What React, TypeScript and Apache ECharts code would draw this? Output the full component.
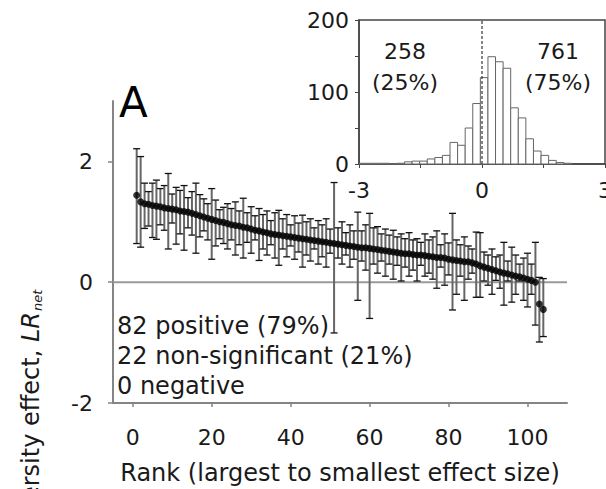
import React, { useEffect, useRef } from 'react';
import * as echarts from 'echarts';

// Main panel: effect per rank (rank = position in list, 1..104)
const effectMean = [
  1.44, 1.33, 1.30, 1.29, 1.27, 1.26, 1.25, 1.23, 1.22, 1.21,
  1.20, 1.18, 1.17, 1.16, 1.14, 1.12, 1.10, 1.08, 1.06, 1.04,
  1.02, 1.00, 0.99, 0.97, 0.95, 0.94, 0.93, 0.91, 0.90, 0.88,
  0.86, 0.85, 0.83, 0.82, 0.80, 0.79, 0.78, 0.77, 0.76, 0.75,
  0.74, 0.73, 0.72, 0.71, 0.70, 0.69, 0.68, 0.67, 0.66, 0.65,
  0.64, 0.63, 0.62, 0.61, 0.60, 0.59, 0.58, 0.57, 0.57, 0.56,
  0.55, 0.54, 0.53, 0.52, 0.51, 0.50, 0.49, 0.48, 0.47, 0.47,
  0.46, 0.45, 0.45, 0.44, 0.43, 0.42, 0.41, 0.41, 0.40, 0.38,
  0.37, 0.36, 0.35, 0.34, 0.34, 0.32, 0.30, 0.27, 0.25, 0.23,
  0.21, 0.19, 0.17, 0.15, 0.14, 0.12, 0.10, 0.09, 0.07, 0.05,
  0.03, 0.00, -0.36, -0.45,
];
const effectLow = [
  0.64, 0.58, 0.89, 0.93, 0.74, 0.71, 0.95, 0.86, 0.55, 0.98,
  0.63, 0.80, 0.53, 0.90, 0.78, 0.48, 0.75, 0.85, 0.70, 0.38,
  0.60, 0.72, 0.64, 0.55, 0.70, 0.45, 0.62, 0.40, 0.66, 0.48,
  0.70, 0.36, 0.55, 0.45, 0.62, 0.40, 0.28, 0.55, 0.42, 0.60,
  0.38, 0.50, 0.25, 0.45, 0.35, 0.55, 0.30, 0.42, 0.25, 0.48,
  -0.84, 0.40, 0.30, 0.45, 0.25, 0.38, -0.30, 0.35, 0.20, -0.60,
  0.30, 0.15, 0.35, 0.10, 0.30, 0.05, 0.28, 0.02, 0.25, 0.10,
  0.20, 0.02, 0.28, 0.10, 0.15, 0.05, -0.10, 0.25, -0.05, 0.12,
  -0.46, -0.20, 0.10, -0.30, 0.05, 0.15, -0.25, -0.25, 0.02, -0.05,
  -0.20, 0.03, -0.10, -0.38, 0.02, -0.33, -0.20, 0.02, -0.30, -0.41,
  -0.20, -0.71, -0.99, -0.90,
];
const effectHigh = [
  2.21, 2.08, 1.64, 1.50, 1.64, 1.69, 1.55, 1.60, 1.80, 1.46,
  1.57, 1.52, 1.60, 1.40, 1.50, 1.64, 1.45, 1.38, 1.30, 1.55,
  1.36, 1.20, 1.24, 1.30, 1.22, 1.33, 1.18, 1.39, 1.15, 1.25,
  1.10, 1.22, 1.12, 1.18, 1.02, 1.15, 1.19, 1.05, 1.12, 0.95,
  1.10, 0.98, 1.11, 1.00, 1.05, 0.90, 1.02, 0.95, 1.05, 0.88,
  1.65, 0.90, 1.00, 0.82, 0.95, 0.85, 1.16, 0.85, 0.95, 1.14,
  0.90, 0.92, 0.80, 0.88, 0.78, 0.86, 0.75, 0.80, 0.72, 0.82,
  0.70, 0.72, 0.66, 0.80, 0.70, 0.75, 0.85, 0.62, 0.80, 0.65,
  1.14, 0.70, 0.62, 0.75, 0.60, 0.55, 0.83, 0.82, 0.50, 0.45,
  0.55, 0.42, 0.45, 0.66, 0.35, 0.58, 0.45, 0.30, 0.40, 0.48,
  0.30, 0.66, 0.08, 0.06,
];

// Inset histogram
const histStart = -3.0;
const histBinWidth = 0.185;
const histCounts = [
  1, 1, 1, 1, 0, 1, 3, 4, 4, 7, 9, 12, 30, 26, 50, 84,
  120, 149, 142, 133, 78, 64, 35, 18, 12, 5, 2, 1,
];

const mainXTicks = [0, 20, 40, 60, 80, 100];
const mainYTicks = [-2, 0, 2];
const insetXTicks = [-3, -1.5, 0, 1.5, 3];
const insetXLabels = [-3, 0, 3];
const insetYTicks = [0, 50, 100, 150, 200];
const insetYLabels = [0, 100, 200];

const FONT = 'DejaVu Sans';
const TXT = '#1a1a1a';

export default function App() {
  const ref = useRef<HTMLDivElement>(null);
  useEffect(() => {
    const chart = echarts.init(ref.current!, null, { renderer: 'svg' });
    const errData = effectMean.map((_, i) => [i + 1, effectLow[i], effectHigh[i]]);
    const meanData = effectMean.map((m, i) => [i + 1, m]);
    const histData = histCounts.map((c, i) => [
      histStart + i * histBinWidth,
      histStart + (i + 1) * histBinWidth,
      c,
    ]);
    const axisGray = '#858585';
    chart.setOption({
      animation: false,
      backgroundColor: '#fff',
      grid: [
        { left: 113, top: 101, width: 454, height: 302, outerBoundsMode: 'none', containLabel: false },
        {
          left: 359, top: 20, width: 246, height: 144,
          outerBoundsMode: 'none', containLabel: false,
          show: true, borderColor: '#444', borderWidth: 1.5,
        },
      ],
      xAxis: [
        {
          type: 'value', gridIndex: 0, min: -5, max: 110,
          axisLine: { onZero: false, lineStyle: { color: axisGray, width: 2 } },
          axisTick: { customValues: mainXTicks, length: 4, lineStyle: { color: axisGray, width: 1.5 } },
          axisLabel: { customValues: mainXTicks, margin: 23, fontSize: 22, fontFamily: FONT, color: TXT },
          splitLine: { show: false },
          name: 'Rank (largest to smallest effect size)',
          nameLocation: 'middle', nameGap: 70,
          nameTextStyle: { fontSize: 24, fontFamily: FONT, color: TXT, verticalAlign: 'middle' },
        },
        {
          type: 'value', gridIndex: 1, min: -3, max: 3,
          axisLine: { onZero: false, lineStyle: { color: '#444', width: 1.5 } },
          axisTick: { customValues: insetXTicks, length: 4, lineStyle: { color: '#444' } },
          axisLabel: { customValues: insetXLabels, margin: 15, fontSize: 22, fontFamily: FONT, color: TXT },
          splitLine: { show: false },
        },
      ],
      yAxis: [
        {
          type: 'value', gridIndex: 0, min: -2, max: 3,
          axisLine: { show: true, onZero: false, lineStyle: { color: axisGray, width: 2 } },
          axisTick: { show: true, customValues: mainYTicks, length: 5, lineStyle: { color: axisGray, width: 1.5 } },
          axisLabel: { customValues: mainYTicks, margin: 20, fontSize: 22, fontFamily: FONT, color: TXT },
          splitLine: { show: false },
        },
        {
          type: 'value', gridIndex: 1, min: 0, max: 200,
          axisLine: { show: true, onZero: false, lineStyle: { color: '#444', width: 1.5 } },
          axisTick: { show: true, customValues: insetYTicks, length: 4, lineStyle: { color: '#444' } },
          axisLabel: { customValues: insetYLabels, margin: 10, fontSize: 22, fontFamily: FONT, color: TXT },
          splitLine: { show: false },
        },
      ],
      series: [
        {
          type: 'line', xAxisIndex: 0, yAxisIndex: 0, silent: true,
          data: [[-5, 0], [110, 0]], symbol: 'none',
          lineStyle: { color: '#9a9a9a', width: 2 }, z: 1,
        },
        {
          type: 'custom', xAxisIndex: 0, yAxisIndex: 0, silent: true,
          data: errData, encode: { x: 0, y: [1, 2] }, z: 2,
          renderItem: (params: any, api: any) => {
            const x = api.value(0);
            const lo = api.value(1);
            const hi = api.value(2);
            const pHi = api.coord([x, hi]);
            const pLo = api.coord([x, lo]);
            const hw = 3.5;
            return {
              type: 'group',
              children: [
                { type: 'line', shape: { x1: pHi[0], y1: pHi[1], x2: pLo[0], y2: pLo[1] }, style: { stroke: '#666', lineWidth: 2 } },
                { type: 'line', shape: { x1: pHi[0] - hw, y1: pHi[1], x2: pHi[0] + hw, y2: pHi[1] }, style: { stroke: '#111', lineWidth: 1.3 } },
                { type: 'line', shape: { x1: pLo[0] - hw, y1: pLo[1], x2: pLo[0] + hw, y2: pLo[1] }, style: { stroke: '#111', lineWidth: 1.3 } },
              ],
            };
          },
        },
        {
          type: 'scatter', xAxisIndex: 0, yAxisIndex: 0, silent: true,
          data: meanData, symbol: 'circle', symbolSize: 7,
          itemStyle: { color: '#000' }, z: 3,
        },
        {
          type: 'custom', xAxisIndex: 1, yAxisIndex: 1, silent: true,
          data: histData, encode: { x: [0, 1], y: 2 },
          renderItem: (params: any, api: any) => {
            const p0 = api.coord([api.value(0), api.value(2)]);
            const p1 = api.coord([api.value(1), 0]);
            return {
              type: 'rect',
              shape: { x: p0[0], y: p0[1], width: p1[0] - p0[0], height: p1[1] - p0[1] },
              style: { fill: '#fff', stroke: '#666', lineWidth: 1 },
            };
          },
        },
        {
          type: 'line', xAxisIndex: 1, yAxisIndex: 1, silent: true,
          data: [[0, 0], [0, 200]], symbol: 'none',
          lineStyle: { color: '#333', width: 1.2, type: [3, 2] }, z: 5,
        },
      ],
      graphic: [
        {
          type: 'text', x: 119, y: 102,
          style: { text: 'A', fontSize: 42, fontFamily: FONT, fill: '#000', align: 'left', verticalAlign: 'middle' },
        },
        {
          type: 'text', x: 117, y: 356,
          style: {
            text: '82 positive (79%)\n22 non-significant (21%)\n0 negative',
            fontSize: 24, lineHeight: 30, fontFamily: FONT, fill: TXT, align: 'left', verticalAlign: 'middle',
          },
        },
        {
          type: 'text', x: 405, y: 67,
          style: { text: '258\n(25%)', fontSize: 22, lineHeight: 31, fontFamily: FONT, fill: TXT, align: 'center', verticalAlign: 'middle' },
        },
        {
          type: 'text', x: 558, y: 67,
          style: { text: '761\n(75%)', fontSize: 22, lineHeight: 31, fontFamily: FONT, fill: TXT, align: 'center', verticalAlign: 'middle' },
        },
        {
          type: 'group', x: 31, y: 312, rotation: Math.PI / 2,
          children: [
            {
              type: 'text', x: 0, y: 0,
              style: {
                text: '{a|Diversity effect, }{b|LR}',
                rich: {
                  a: { fontSize: 24, fontFamily: FONT, fill: TXT },
                  b: { fontSize: 24, fontFamily: FONT, fontStyle: 'italic', fill: TXT },
                },
                fontSize: 24, fontFamily: FONT, fill: TXT, align: 'right', verticalAlign: 'middle',
              },
            },
            {
              type: 'text', x: 1, y: 6,
              style: { text: 'net', fontSize: 13, fontFamily: FONT, fontStyle: 'italic', fill: TXT, align: 'left', verticalAlign: 'middle' },
            },
          ],
        },
      ],
    });
    return () => chart.dispose();
  }, []);
  return (
    <div
      ref={ref}
      style={{ position: 'fixed', left: 0, top: 0, width: 606, height: 489, background: '#fff' }}
    />
  );
}
